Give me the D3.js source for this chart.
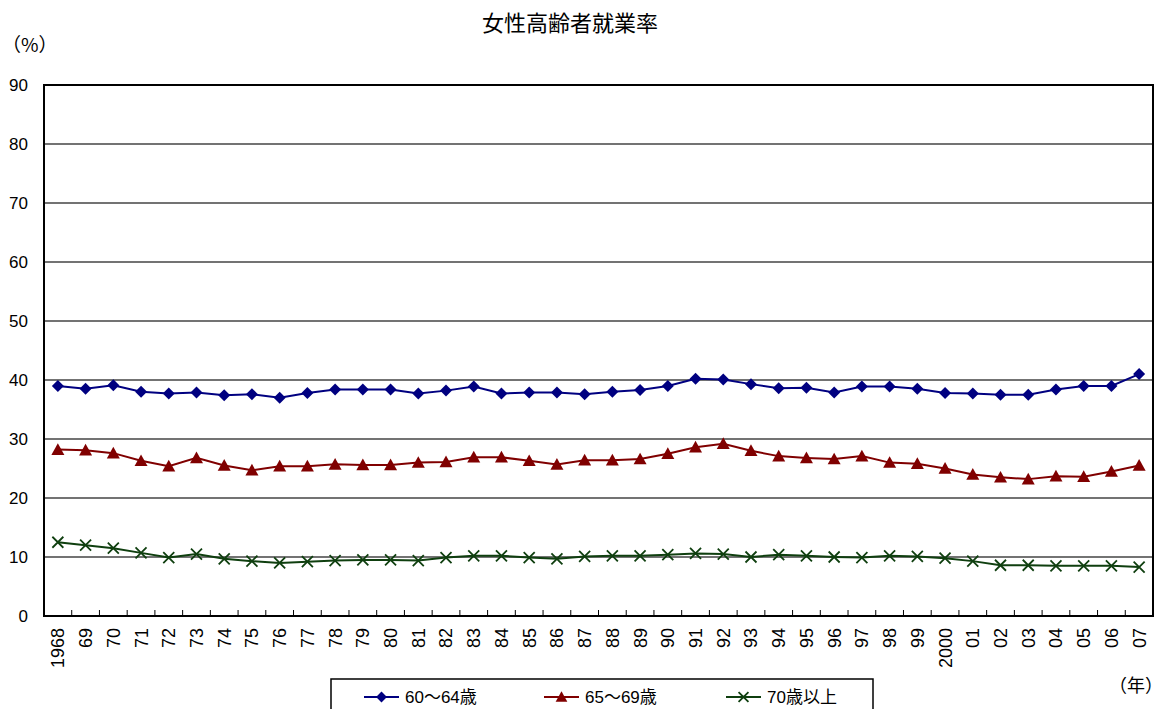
<!DOCTYPE html>
<html>
<head>
<meta charset="utf-8">
<script src="https://cdn.jsdelivr.net/npm/d3@7"></script>
<style>
  html, body { margin: 0; padding: 0; background: #fff; }
  svg { display: block; }
  text { font-family: "Liberation Sans", Arial, "Noto Sans CJK JP", sans-serif; fill: #000; }
  .jp { font-family: "Noto Sans CJK JP", "Liberation Sans", sans-serif; }
</style>
</head>
<body>
<svg id="chart" width="1166" height="709"></svg>
<script>
// Survey years and their axis labels
const years = [1968,1969,1970,1971,1972,1973,1974,1975,1976,1977,1978,1979,1980,1981,1982,1983,1984,1985,1986,1987,
               1988,1989,1990,1991,1992,1993,1994,1995,1996,1997,1998,1999,2000,2001,2002,2003,2004,2005,2006,2007];
const yearLabels = ["1968","69","70","71","72","73","74","75","76","77","78","79","80","81","82","83","84","85","86","87",
                    "88","89","90","91","92","93","94","95","96","97","98","99","2000","01","02","03","04","05","06","07"];

// Employment rate of older women (%)
const age60to64 = [39.0,38.5,39.1,38.0,37.7,37.9,37.4,37.6,37.0,37.8,38.4,38.4,38.4,37.7,38.2,38.9,37.7,37.9,37.9,37.6,
                   38.0,38.3,39.0,40.2,40.1,39.3,38.6,38.7,37.9,38.9,38.9,38.5,37.8,37.7,37.5,37.5,38.4,39.0,39.0,41.0];
const age65to69 = [28.2,28.1,27.6,26.3,25.4,26.8,25.5,24.7,25.4,25.4,25.7,25.6,25.6,26.0,26.1,26.9,26.9,26.3,25.7,26.4,
                   26.4,26.6,27.5,28.6,29.2,28.0,27.1,26.8,26.6,27.1,26.0,25.8,25.0,24.0,23.5,23.2,23.7,23.6,24.5,25.5];
const age70plus  = [12.5,12.0,11.5,10.7,9.9,10.5,9.7,9.3,9.0,9.2,9.4,9.5,9.5,9.4,9.9,10.2,10.2,9.9,9.7,10.1,
                    10.2,10.2,10.4,10.6,10.5,10.0,10.4,10.2,10.0,9.9,10.2,10.1,9.8,9.3,8.6,8.6,8.5,8.5,8.5,8.3];

const yTicks = [0,10,20,30,40,50,60,70,80,90];

const seriesNames = ["60～64歳", "65～69歳", "70歳以上"];
const seriesColors = ["#000080", "#800000", "#0f3f0f"];
const seriesMarkers = ["diamond", "triangle", "cross"];
const seriesValues = [age60to64, age65to69, age70plus];

const svg = d3.select("#chart");
const plot = { left: 44, right: 1153, top: 85, bottom: 616 };

const x = d3.scaleBand().domain(years).range([plot.left, plot.right]).padding(0);
const y = d3.scaleLinear().domain([0, 90]).range([plot.bottom, plot.top]);
const cx = d => x(d) + x.bandwidth() / 2;

// Title and unit labels
svg.append("text").attr("class", "jp")
  .attr("x", 570).attr("y", 31).attr("text-anchor", "middle")
  .attr("font-size", 22).text("女性高齢者就業率");
svg.append("text").attr("class", "jp")
  .attr("x", 2).attr("y", 52).attr("font-size", 19).text("（%）");
svg.append("text").attr("class", "jp")
  .attr("x", 1163).attr("y", 692).attr("text-anchor", "end").attr("font-size", 18).text("（年）");

// Horizontal gridlines
svg.append("g").selectAll("line")
  .data(yTicks.filter(v => v > 0 && v < 90))
  .join("line")
  .attr("x1", plot.left).attr("x2", plot.right)
  .attr("y1", d => y(d)).attr("y2", d => y(d))
  .attr("stroke", "#444").attr("stroke-width", 1.4);

// Y axis labels
svg.append("g").selectAll("text")
  .data(yTicks)
  .join("text")
  .attr("x", 28).attr("y", d => y(d))
  .attr("dy", "0.36em").attr("text-anchor", "end")
  .attr("font-size", 17).text(d => d);

// Category tick marks between years
svg.append("g").selectAll("line")
  .data(years.slice(1))
  .join("line")
  .attr("x1", d => x(d)).attr("x2", d => x(d))
  .attr("y1", plot.bottom).attr("y2", plot.bottom - 6)
  .attr("stroke", "#000").attr("stroke-width", 1);

// Plot frame
svg.append("rect")
  .attr("x", plot.left).attr("y", plot.top)
  .attr("width", plot.right - plot.left).attr("height", plot.bottom - plot.top)
  .attr("fill", "none").attr("stroke", "#000").attr("stroke-width", 2);

// Rotated year labels
svg.append("g").selectAll("text")
  .data(years)
  .join("text")
  .attr("transform", d => `translate(${cx(d)},${plot.bottom + 12}) rotate(-90)`)
  .attr("dy", "0.36em").attr("text-anchor", "end")
  .attr("font-size", 18)
  .text((d, i) => yearLabels[i]);

// Marker shapes
function drawMarker(g, type, color, px, py, s) {
  if (type === "diamond") {
    g.append("path")
      .attr("d", `M${px},${py - s}L${px + s},${py}L${px},${py + s}L${px - s},${py}Z`)
      .attr("fill", color);
  } else if (type === "triangle") {
    const h = s * 1.8;
    g.append("path")
      .attr("d", `M${px},${py - h * 0.55}L${px + s},${py + h * 0.45}L${px - s},${py + h * 0.45}Z`)
      .attr("fill", color);
  } else {
    g.append("path")
      .attr("d", `M${px - s},${py - s}L${px + s},${py + s}M${px - s},${py + s}L${px + s},${py - s}`)
      .attr("stroke", color).attr("stroke-width", 1.8).attr("fill", "none");
  }
}
const markerSize = { diamond: 6, triangle: 6.5, cross: 5.5 };

const line = d3.line().x(d => cx(d.year)).y(d => y(d.value));

seriesValues.forEach((vals, si) => {
  const pts = years.map((yr, i) => ({ year: yr, value: vals[i] }));
  const g = svg.append("g");
  g.append("path").datum(pts)
    .attr("d", line).attr("fill", "none")
    .attr("stroke", seriesColors[si]).attr("stroke-width", 2);
  pts.forEach(p => drawMarker(g, seriesMarkers[si], seriesColors[si], cx(p.year), y(p.value), markerSize[seriesMarkers[si]]));
});

// Legend
const legend = svg.append("g");
legend.append("rect")
  .attr("x", 331).attr("y", 679).attr("width", 542).attr("height", 40)
  .attr("fill", "#fff").attr("stroke", "#000").attr("stroke-width", 1.5);
const legendX = [364, 544, 726];
seriesNames.forEach((name, si) => {
  const lx = legendX[si], ly = 697;
  legend.append("line")
    .attr("x1", lx).attr("x2", lx + 35).attr("y1", ly).attr("y2", ly)
    .attr("stroke", seriesColors[si]).attr("stroke-width", 2);
  drawMarker(legend, seriesMarkers[si], seriesColors[si], lx + 17.5, ly, markerSize[seriesMarkers[si]] * 0.9);
  legend.append("text")
    .attr("x", lx + 41).attr("y", ly).attr("dy", "0.36em")
    .attr("font-size", 17).text(name);
});
</script>
</body>
</html>
